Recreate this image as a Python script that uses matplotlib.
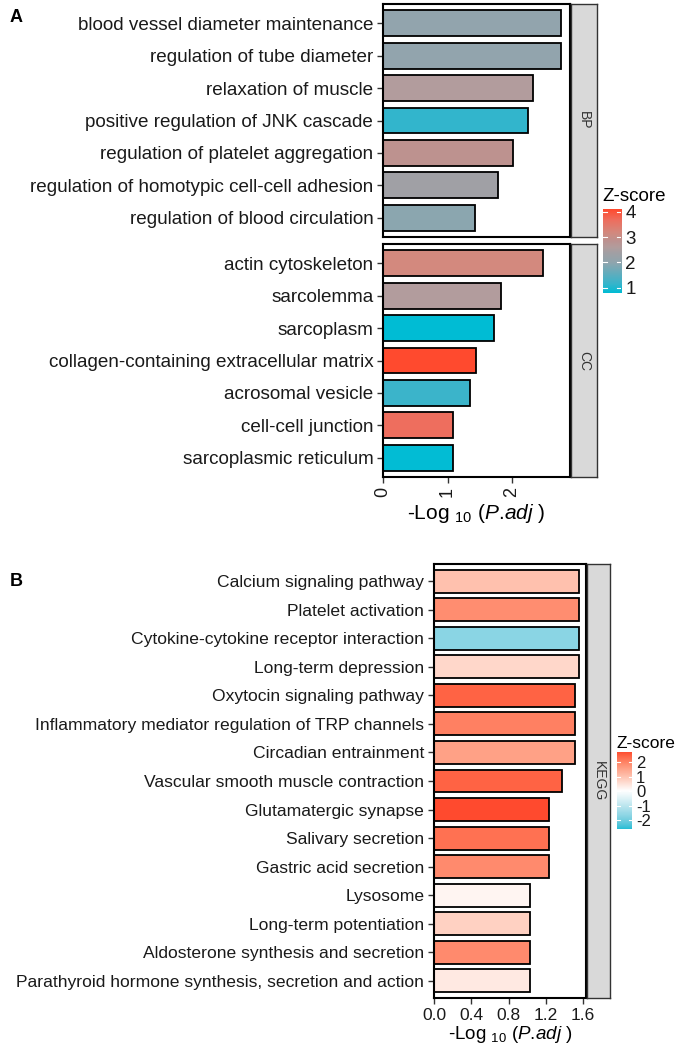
import numpy as np
import matplotlib
matplotlib.use('Agg')
import matplotlib.pyplot as plt
from matplotlib.colors import ListedColormap, LinearSegmentedColormap, Normalize

plt.rcParams['font.family'] = ['Liberation Sans', 'DejaVu Sans']
plt.rcParams['mathtext.fontset'] = 'custom'
plt.rcParams['mathtext.rm'] = 'Liberation Sans'
plt.rcParams['mathtext.it'] = 'Liberation Sans:italic'

# ---- data (top to bottom as displayed) ----
bp_terms = ['blood vessel diameter maintenance', 'regulation of tube diameter',
            'relaxation of muscle', 'positive regulation of JNK cascade',
            'regulation of platelet aggregation', 'regulation of homotypic cell-cell adhesion',
            'regulation of blood circulation']
bp_logp = [2.76, 2.76, 2.33, 2.25, 2.02, 1.78, 1.43]
bp_z = [2.05, 2.05, 2.6, 1.13, 2.85, 2.35, 1.95]

cc_terms = ['actin cytoskeleton', 'sarcolemma', 'sarcoplasm',
            'collagen-containing extracellular matrix', 'acrosomal vesicle',
            'cell-cell junction', 'sarcoplasmic reticulum']
cc_logp = [2.48, 1.83, 1.72, 1.44, 1.35, 1.09, 1.08]
cc_z = [3.18, 2.6, 0.8, 4.1, 1.2, 3.67, 0.82]

kegg_terms = ['Calcium signaling pathway', 'Platelet activation',
              'Cytokine-cytokine receptor interaction', 'Long-term depression',
              'Oxytocin signaling pathway', 'Inflammatory mediator regulation of TRP channels',
              'Circadian entrainment', 'Vascular smooth muscle contraction',
              'Glutamatergic synapse', 'Salivary secretion', 'Gastric acid secretion',
              'Lysosome', 'Long-term potentiation', 'Aldosterone synthesis and secretion',
              'Parathyroid hormone synthesis, secretion and action']
kegg_logp = [1.552, 1.552, 1.552, 1.552, 1.517, 1.517, 1.517, 1.377,
             1.229, 1.229, 1.229, 1.028, 1.028, 1.028, 1.028]
kegg_z = [1.0, 1.8, -1.7, 0.65, 2.4, 2.0, 1.5, 2.4, 2.7, 2.2, 1.85, 0.15, 0.75, 1.85, 0.35]


# ---- Lab interpolation for the diverging scale of panel B ----
def _to_lin(c):
    c = np.asarray(c, float)
    return np.where(c <= 0.04045, c / 12.92, ((c + 0.055) / 1.055) ** 2.4)

def _from_lin(c):
    c = np.clip(c, 0, 1)
    return np.where(c <= 0.0031308, 12.92 * c, 1.055 * c ** (1 / 2.4) - 0.055)

M = np.array([[0.4124, 0.3576, 0.1805], [0.2126, 0.7152, 0.0722], [0.0193, 0.1192, 0.9505]])
WP = np.array([0.95047, 1.0, 1.08883])

def hex_to_lab(h):
    rgb = np.array([int(h[i:i + 2], 16) / 255 for i in (1, 3, 5)])
    xyz = M @ _to_lin(rgb) / WP
    f = np.where(xyz > 0.008856, np.cbrt(xyz), 7.787 * xyz + 16 / 116)
    return np.array([116 * f[1] - 16, 500 * (f[0] - f[1]), 200 * (f[1] - f[2])])

def lab_to_rgb(lab):
    fy = (lab[..., 0] + 16) / 116
    fx = fy + lab[..., 1] / 500
    fz = fy - lab[..., 2] / 200
    f = np.stack([fx, fy, fz], -1)
    xyz = np.where(f > 0.206893, f ** 3, (f - 16 / 116) / 7.787) * WP
    return _from_lin(xyz @ np.linalg.inv(M).T)

def lab_cmap(hexes, n=256):
    labs = np.array([hex_to_lab(h) for h in hexes])
    t = np.linspace(0, 1, n)
    pos = np.linspace(0, 1, len(hexes))
    lab = np.stack([np.interp(t, pos, labs[:, k]) for k in range(3)], -1)
    return ListedColormap(lab_to_rgb(lab))

# panel A scale: cyan -> blue-grey -> red, as seen on the bars
cmap_a = LinearSegmentedColormap.from_list('zA', [
    (0.0, '#00BCD4'), (0.1, '#33B5CC'), (0.36, '#8FA5AE'), (0.47, '#A0A0A5'),
    (0.55, '#B39C9C'), (0.62, '#BC9290'), (0.72, '#D3897E'), (0.87, '#EE6E5E'),
    (1.0, '#FF4A2E')])
norm_a = Normalize(0.8, 4.1)
cmap_b = lab_cmap(['#00BCD4', '#FFFFFF', '#FF4A2E'])
norm_b = Normalize(-2.7, 2.7)

W, H = 678, 1054
fig = plt.figure(figsize=(W / 100, H / 100), dpi=100)

def px_axes(x0, y0, x1, y1):
    return fig.add_axes([x0 / W, 1 - y1 / H, (x1 - x0) / W, (y1 - y0) / H])

def bar_panel(ax, terms, vals, zs, cmap, norm, fs):
    y = np.arange(len(terms))
    ax.barh(y, vals, height=0.8, color=cmap(norm(zs)), edgecolor='black', linewidth=1.3)
    ax.set_ylim(len(terms) - 0.4, -0.6)
    ax.set_xlim(0, max(vals) * 1.05)
    ax.set_yticks(y)
    ax.set_yticklabels(terms, fontsize=fs, color='#1A1A1A')
    for s in ax.spines.values():
        s.set_linewidth(1.5)
    ax.tick_params(length=4, width=1, color='#333333', pad=3)

def strip(ax, label):
    ax.set_facecolor('#D9D9D9')
    ax.set_xticks([])
    ax.set_yticks([])
    for s in ax.spines.values():
        s.set_color('#333333')
        s.set_linewidth(1.0)
    ax.text(0.5, 0.5, label, rotation=-90, ha='center', va='center', fontsize=10,
            color='#333333', transform=ax.transAxes)

def colorbar(cax, cmap, norm, lo, hi, ticks, title, fs, tfs, tpad):
    vals = np.linspace(lo, hi, 256)
    cax.imshow(vals[:, None], aspect='auto', cmap=cmap, norm=norm, origin='lower',
               extent=[0, 1, lo, hi])
    for t in ticks:
        cax.plot([0, 0.2], [t, t], color='white', lw=0.8)
        cax.plot([0.8, 1], [t, t], color='white', lw=0.8)
    cax.set_xlim(0, 1)
    cax.set_ylim(lo, hi)
    cax.set_xticks([])
    cax.yaxis.tick_right()
    cax.set_yticks(ticks)
    cax.set_yticklabels([str(t) for t in ticks], fontsize=fs, color='#1A1A1A')
    cax.tick_params(length=0, pad=3)
    for s in cax.spines.values():
        s.set_visible(False)
    cax.set_title(title, fontsize=tfs, loc='left', pad=tpad, x=-0.05)

xlab = r'-Log $_{\mathregular{10}}$ ($\mathit{P}$.$\mathit{adj}$ )'

# ---- panel A ----
ax_bp = px_axes(383, 4, 570, 237)
bar_panel(ax_bp, bp_terms, bp_logp, bp_z, cmap_a, norm_a, 13.6)
ax_bp.tick_params(axis='x', length=0, labelbottom=False)

ax_cc = px_axes(383, 244, 570, 477)
bar_panel(ax_cc, cc_terms, cc_logp, cc_z, cmap_a, norm_a, 13.6)
ax_cc.set_xlim(ax_bp.get_xlim())
ax_cc.set_xticks([0, 1, 2])
ax_cc.set_xticklabels(['0', '1', '2'], rotation=90, fontsize=13, color='#1A1A1A')
ax_cc.set_xlabel(xlab, fontsize=15, labelpad=4)

strip(px_axes(571, 4, 597, 237), 'BP')
strip(px_axes(571, 244, 597, 477), 'CC')

colorbar(px_axes(603, 209, 621, 293), cmap_a, norm_a, 0.8, 4.1, [1, 2, 3, 4],
         'Z-score', 13.5, 13.5, 6)

# ---- panel B ----
ax_k = px_axes(434, 564, 586, 998)
bar_panel(ax_k, kegg_terms, kegg_logp, kegg_z, cmap_b, norm_b, 12.6)
ax_k.set_xticks([0, 0.4, 0.8, 1.2, 1.6])
ax_k.set_xticklabels(['0.0', '0.4', '0.8', '1.2', '1.6'], fontsize=12.5, color='#1A1A1A')
ax_k.set_xlabel(xlab, fontsize=13.5, labelpad=1)

strip(px_axes(587, 564, 610, 998), 'KEGG')

colorbar(px_axes(617, 752, 632, 829), cmap_b, norm_b, -2.6, 2.7, [2, 1, 0, -1, -2],
         'Z-score', 12, 12.5, 3)

fig.text(10 / W, 1 - 18 / H, 'A', fontsize=13, fontweight='bold', va='center')
fig.text(10 / W, 1 - 582 / H, 'B', fontsize=13, fontweight='bold', va='center')

fig.savefig('out.png', dpi=100)
